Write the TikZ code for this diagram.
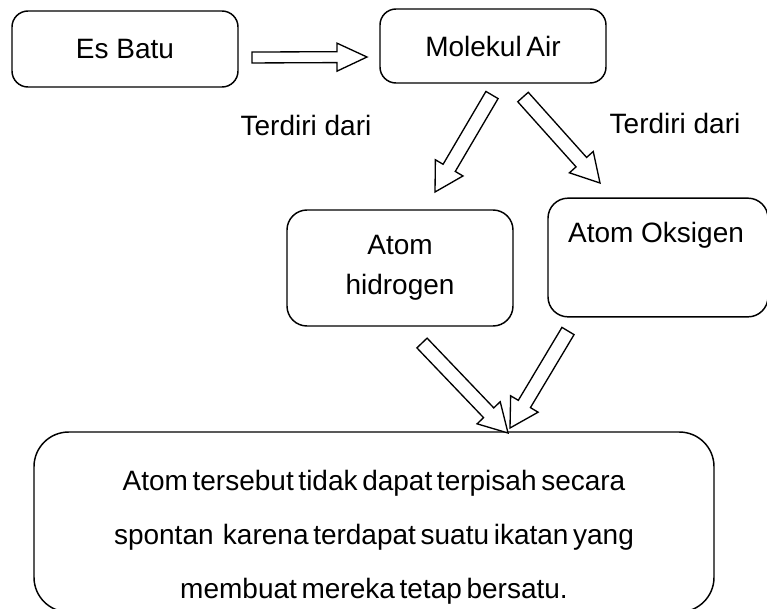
\documentclass[tikz,border=0pt]{standalone}
\usepackage{fontspec}
\setmainfont{Liberation Sans}
\newfontfamily\condfont{Liberation Sans}[WordSpace=0.6]
\usetikzlibrary{calc}
\tikzset{
  box/.style={draw, line width=1.1pt, rounded corners=12pt, inner sep=0pt},
  txt/.style={font=\fontsize{21}{30}\selectfont, inner sep=0pt, align=center},
  hollow/.style={draw, line width=1pt, fill=white, line join=miter},
}
\newcommand\blockarrow[5]{%
  \coordinate (#1-c) at ($(#2)!#5!(#1)$);
  \draw[hollow] ($(#1)!#3!90:(#2)$) -- ($(#1-c)!#3!90:(#2)$) -- ($(#1-c)!#4!90:(#2)$)
    -- (#2) -- ($(#1-c)!#4!-90:(#2)$) -- ($(#1-c)!#3!-90:(#2)$) -- ($(#1)!#3!-90:(#2)$) -- cycle;
}
\begin{document}
\begin{tikzpicture}[x=0.75pt, y=-0.75pt]
\useasboundingbox (0,0) rectangle (767,608);
% boxes
\node[box, minimum width=169.5pt, minimum height=57pt, txt] (es) at (125,49) {Es Batu};
\node[box, minimum width=169.5pt, minimum height=55.5pt, txt] (mol) at (493,46) {Molekul\,Air};
\node[box, rounded corners=15pt, minimum width=169.5pt, minimum height=87pt, txt] (hid) at (400,268) {Atom\\hidrogen};
\node[box, rounded corners=15pt, minimum width=165pt, minimum height=89pt] (oks) at (658,257.5) {};
\node[txt] (okst) at (656,235) {Atom Oksigen};
\node[box, rounded corners=26pt, minimum width=510pt, minimum height=135pt] (bot) at (374,522) {};
\node[inner sep=0pt, align=center, font=\condfont\fontsize{21}{40.5}\selectfont] (bott) at (374,537)
  {Atom tersebut tidak dapat terpisah secara\\spontan\ \ karena terdapat suatu ikatan yang\\membuat mereka tetap bersatu.};
% labels
\node[txt] (t1) at (306,125) {Terdiri dari};
\node[txt] (t2) at (675,123) {Terdiri dari};
% arrows
\coordinate (e1) at (252,57.5); \coordinate (e2) at (367,57);
\blockarrow{e1}{e2}{4.1pt}{10.5pt}{22.5pt}
\coordinate (l1) at (492,95); \coordinate (l2) at (435,192);
\blockarrow{l1}{l2}{5.3pt}{12pt}{21pt}
\coordinate (r1) at (523,97); \coordinate (r2) at (600,183);
\blockarrow{r1}{r2}{5.3pt}{12pt}{21pt}
\coordinate (b1) at (422,343); \coordinate (b2) at (508,433);
\blockarrow{b1}{b2}{5.3pt}{12pt}{21pt}
\coordinate (c1) at (568,331); \coordinate (c2) at (510,428);
\blockarrow{c1}{c2}{5.3pt}{12pt}{21pt}
\end{tikzpicture}
\end{document}
